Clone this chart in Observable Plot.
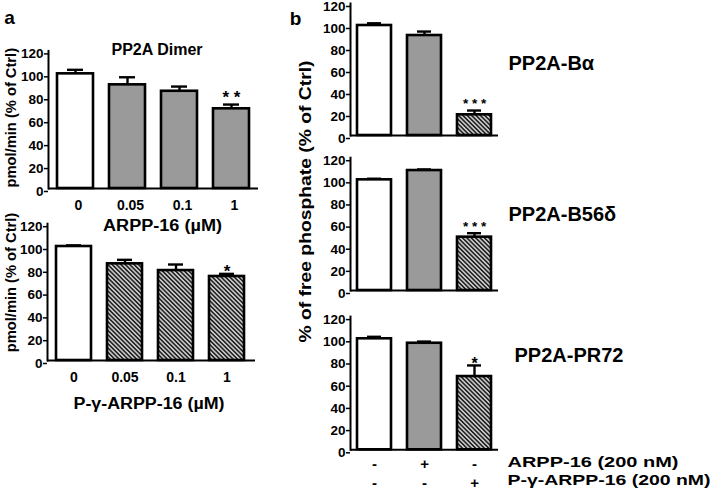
<!DOCTYPE html>
<html><head><meta charset="utf-8">
<script src="https://cdn.jsdelivr.net/npm/d3@7"></script>
<script src="https://cdn.jsdelivr.net/npm/@observablehq/plot@0.6"></script>
<style>
html,body{margin:0;padding:0;background:#fff;}
#root{position:relative;width:720px;height:498px;overflow:hidden;background:#fff;}
#root > svg{position:absolute;left:0;top:0;}
</style></head>
<body>
<svg width="0" height="0" style="position:absolute">
  <defs>
    <pattern id="hatch" patternUnits="userSpaceOnUse" width="3.1" height="3.1" patternTransform="rotate(-45)">
      <rect width="3.1" height="3.1" fill="#c8c8c8"></rect>
      <rect width="1.5" height="3.1" fill="#1e1e1e"></rect>
    </pattern>
  </defs>
</svg>
<div id="root"></div>
<script>
// ---------- data ----------
const conditions = ["Ctrl", "ARPP-16", "P-γ-ARPP-16"];
const yTicks = [0, 20, 40, 60, 80, 100, 120];

// panel a – PP2A dimer
const doses = ["0", "0.05", "0.1", "1"];
const dimerArppKinds = ["Ctrl", "ARPP-16", "ARPP-16", "ARPP-16"];
const dimerArppMean = [100, 90.4, 84.8, 69.5];
const dimerArppSem = [3.5, 6.6, 4.1, 3.7];
const dimerArppSig = ["", "", "", "* *"];

const dimerPgKinds = ["Ctrl", "P-γ-ARPP-16", "P-γ-ARPP-16", "P-γ-ARPP-16"];
const dimerPgMean = [100, 84.8, 78.9, 73.7];
const dimerPgSem = [1, 3.5, 5.3, 2.3];
const dimerPgSig = ["", "", "", "*"];

// panel b – heterotrimers
const arppSigns = ["-", "+", "-"];
const pgSigns = ["-", "-", "+"];
const bAlphaMean = [100, 90.9, 18.8];
const bAlphaSem = [2, 3.6, 3.9];
const bAlphaSig = ["", "", "* * *"];
const b56Mean = [100, 108.4, 48.2];
const b56Sem = [1, 1, 3.6];
const b56Sig = ["", "", "* * *"];
const pr72Mean = [100, 96, 66];
const pr72Sem = [1.8, 1.5, 10];
const pr72Sig = ["", "", "*"];

// ---------- drawing ----------
const FONT = "'Liberation Sans', Arial, sans-serif";
const fills = ["white", "#9a9a9a", "url(#hatch)"];

function panel({cats, kinds, mean, sem, sig, frame, range, pad, sigSize, sigDy, capInset, xAxis, extra}) {
  const [l, r, t, b] = frame;
  const data = cats.map((c, i) => ({c, kind: kinds[i], v: mean[i], top: mean[i] + sem[i], sig: sig[i]}));
  const marks = [
    Plot.ruleX(data, {x: "c", y1: "v", y2: "top", stroke: "black", strokeWidth: 2.4}),
    Plot.tickY(data, {x: "c", y: "top", stroke: "black", strokeWidth: 2.4, insetLeft: capInset, insetRight: capInset}),
    Plot.barY(data, {x: "c", y: "v", fill: "kind", stroke: "black", strokeWidth: 2.6}),
    Plot.frame({anchor: "left", stroke: "black", strokeWidth: 2}),
    Plot.ruleY([0], {stroke: "black", strokeWidth: 2}),
    Plot.axisY({ticks: yTicks, tickSize: 4, tickPadding: 1, dy: 3, fontSize: 13.5, fontWeight: "bold", strokeWidth: 1.5, label: null}),
    Plot.text(data, {x: "c", y: "top", text: "sig", fontSize: sigSize, fontWeight: "bold", dy: sigDy, lineAnchor: "middle", fill: "black"}),
    ...(xAxis ? [Plot.axisX({tickSize: 0, tickPadding: 12, fontSize: 14, fontWeight: "bold", dx: xAxis.dx, label: null})] : []),
    ...extra
  ];
  return Plot.plot({
    width: 720, height: 498,
    marginLeft: l, marginRight: 720 - r, marginTop: t, marginBottom: 498 - b,
    x: {domain: cats, range, paddingInner: pad, paddingOuter: pad / 2, axis: xAxis ? undefined : null},
    y: {domain: [0, 120]},
    color: {type: "ordinal", domain: conditions, range: fills},
    style: {fontFamily: FONT, background: "transparent", color: "black", overflow: "visible"},
    marks
  });
}

const root = document.getElementById("root");
const bold = {fontWeight: "bold", lineAnchor: "middle"};

// a – top
root.append(panel({
  cats: doses, kinds: dimerArppKinds, mean: dimerArppMean, sem: dimerArppSem, sig: dimerArppSig,
  frame: [48, 258, 50.4, 188], range: [48.4, 257], pad: 0.31, sigSize: 17, sigDy: -6.6, capInset: 10,
  xAxis: {dx: 3},
  extra: [
    Plot.text(["a"], {frameAnchor: "top-left", textAnchor: "middle", dx: -39, dy: -33, fontSize: 19, ...bold}),
    Plot.text(["PP2A Dimer"], {frameAnchor: "top", dx: 3.5, dy: -1, fontSize: 16, ...bold}),
    Plot.text(["pmol/min (% of Ctrl)"], {frameAnchor: "left", textAnchor: "middle", dx: -37, dy: -2, rotate: -90, fontSize: 14.7, ...bold}),
    Plot.text(["ARPP-16 (µM)"], {frameAnchor: "bottom", textAnchor: "middle", dx: 9, dy: 37, fontSize: 16, ...bold})
  ]
}));

// a – bottom
root.append(panel({
  cats: doses, kinds: dimerPgKinds, mean: dimerPgMean, sem: dimerPgSem, sig: dimerPgSig,
  frame: [47, 255, 223.2, 360], range: [48, 252], pad: 0.314, sigSize: 17, sigDy: -2.6, capInset: 10,
  xAxis: {dx: 0},
  extra: [
    Plot.text(["pmol/min (% of Ctrl)"], {frameAnchor: "left", textAnchor: "middle", dx: -36, dy: -9.6, rotate: -90, fontSize: 14.7, ...bold}),
    Plot.text(["P-γ-ARPP-16 (µM)"], {frameAnchor: "bottom", textAnchor: "middle", dx: -2.5, dy: 43, fontSize: 16, ...bold})
  ]
}));

// b – top (PP2A-Bα)
root.append(panel({
  cats: conditions, kinds: conditions, mean: bAlphaMean, sem: bAlphaSem, sig: bAlphaSig,
  frame: [350, 498, 3, 135], range: [348.5, 498.5], pad: 0.32, sigSize: 13.5, sigDy: -6.5, capInset: 10,
  xAxis: null,
  extra: [
    Plot.text(["b"], {frameAnchor: "top-left", textAnchor: "middle", dx: -55, dy: 15.5, fontSize: 19, ...bold}),
    Plot.text(["PP2A-Bα"], {frameAnchor: "top-right", textAnchor: "start", dx: 10, dy: 60, fontSize: 20, ...bold})
  ]
}));

// b – middle (PP2A-B56δ)
root.append(panel({
  cats: conditions, kinds: conditions, mean: b56Mean, sem: b56Sem, sig: b56Sig,
  frame: [350, 498, 157.2, 290], range: [349, 499], pad: 0.32, sigSize: 13.5, sigDy: -6.5, capInset: 10,
  xAxis: null,
  extra: [
    Plot.text(["PP2A-B56δ"], {frameAnchor: "top-right", textAnchor: "start", dx: 10, dy: 57, fontSize: 20, ...bold}),
    Plot.text(["% of free phosphate (% of Ctrl)"], {frameAnchor: "left", textAnchor: "middle", dx: -45, dy: -22.6, rotate: -90, fontSize: 16.5, ...bold})
  ]
}));

// b – bottom (PP2A-PR72)
const signData = conditions.map((c, i) => ({c, a: arppSigns[i], p: pgSigns[i]}));
root.append(panel({
  cats: conditions, kinds: conditions, mean: pr72Mean, sem: pr72Sem, sig: pr72Sig,
  frame: [350, 498, 316.1, 449.3], range: [349, 499], pad: 0.32, sigSize: 16, sigDy: -1.8, capInset: 10,
  xAxis: null,
  extra: [
    Plot.text(["PP2A-PR72"], {frameAnchor: "top-right", textAnchor: "start", dx: 16, dy: 39, fontSize: 20, ...bold}),
    Plot.text(signData, {x: "c", text: "a", frameAnchor: "bottom", dy: 14, fontSize: 15, ...bold}),
    Plot.text(signData, {x: "c", text: "p", frameAnchor: "bottom", dy: 33, fontSize: 15, ...bold}),
    Plot.text(["ARPP-16 (200 nM)"], {frameAnchor: "bottom-right", textAnchor: "start", dx: 9, dy: 12.5, fontSize: 15.5, ...bold}),
    Plot.text(["P-γ-ARPP-16 (200 nM)"], {frameAnchor: "bottom-right", textAnchor: "start", dx: 9, dy: 30, fontSize: 15.5, ...bold})
  ]
}));

// widen long labels to the lengths they have in the figure
const targetLengths = new Map([
  ["ARPP-16 (µM)", 119],
  ["P-γ-ARPP-16 (µM)", 151],
  ["% of free phosphate (% of Ctrl)", 282],
  ["ARPP-16 (200 nM)", 171],
  ["P-γ-ARPP-16 (200 nM)", 203]
]);
root.querySelectorAll("text").forEach(el => {
  const len = targetLengths.get(el.textContent);
  if (len) {
    el.setAttribute("textLength", len);
    el.setAttribute("lengthAdjust", "spacingAndGlyphs");
  }
});
</script>
</body></html>
